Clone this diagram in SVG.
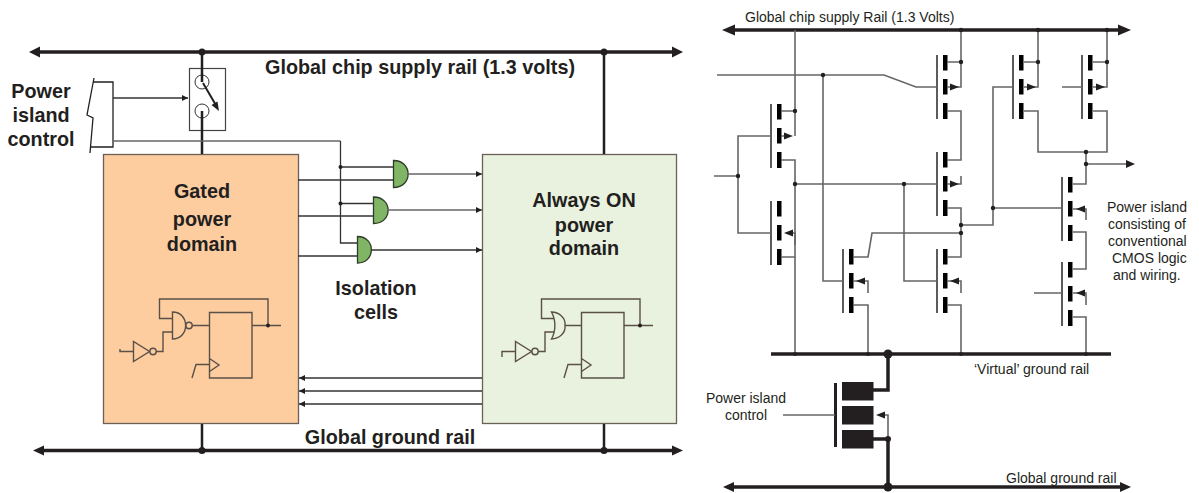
<svg xmlns="http://www.w3.org/2000/svg" width="1199" height="493" viewBox="0 0 1199 493">
<style>
text{font-family:"Liberation Sans",Arial,sans-serif;fill:#231f20}
.b{font-weight:bold;font-size:19.8px;text-anchor:middle}
.r{font-size:14px}
.c{font-size:14px;text-anchor:middle}
.w{fill:none;stroke:#333;stroke-width:1.3}
.g{fill:none;stroke:#666;stroke-width:1.6}
.t{fill:none;stroke:#231f20;stroke-width:1.3}
.h{fill:none;stroke:#231f20;stroke-width:3.500}
.m{fill:none;stroke:#231f20;stroke-width:2.500}
.k{fill:#231f20;stroke:none}
.bar{fill:#231f20;stroke:none}
.cell{fill:none;stroke:#5a5048;stroke-width:1.4}
.gate{fill:#7fb565;stroke:#2f3a28;stroke-width:1.3}
</style>
<defs>
<marker id="a" markerUnits="userSpaceOnUse" markerWidth="8" markerHeight="8" refX="6" refY="3" orient="auto"><path d="M0 0L6 3L0 6Z" fill="#231f20"/></marker>
<g id="fet"><path d="M0 0V64" stroke="#333" stroke-width="1.6"/><rect x="6" y="0" width="4.500" height="15.500"/><rect x="6" y="24" width="4.500" height="15.500"/><rect x="6" y="48" width="4.500" height="16"/></g>
</defs>

<g id="left-rails">
<path class="h" d="M38 52H674"/><path class="k" d="M29 52L40 46.500V57.500Z"/><path class="k" d="M683 52L672 46.500V57.500Z"/>
<path class="h" d="M42 450.500H673"/><path class="k" d="M33 450.500L44 445.500V455.500Z"/><path class="k" d="M683 450.500L672 445.500V455.500Z"/>
<circle class="k" cx="202" cy="52" r="3.500"/>
<circle class="k" cx="604" cy="52" r="3.500"/>
<circle class="k" cx="202" cy="450.500" r="3.500"/>
<circle class="k" cx="604" cy="450.500" r="3.500"/>
<text class="b" x="420" y="74">Global chip supply rail (1.3 volts)</text>
<text class="b" x="390" y="444">Global ground rail</text>
</g>

<g id="gated-domain">
<rect x="103.500" y="154.500" width="195" height="269" fill="#fdcda0" stroke="#6b6058" stroke-width="1.3"/>
<text class="b"><tspan x="202" y="198">Gated</tspan><tspan x="202" y="226">power</tspan><tspan x="202" y="251">domain</tspan></text>
<path class="cell" d="M209.500 312.500H252V378H209.500Z"/>
<path class="cell" d="M172.500 312V339C190 339 190 312 172.500 312Z"/>
<circle class="cell" cx="189" cy="325.500" r="3.200"/>
<path class="cell" d="M192 325.500H209M252 325.500H281M268 325.500V299H159.500V318.500H172M172 332H163V351.500H156"/>
<circle class="k" cx="268" cy="325.500" r="2"/>
<path class="cell" d="M133.500 341.500V361.500L149.500 351.500Z"/>
<circle class="cell" cx="153" cy="351.500" r="3.200"/>
<path class="cell" d="M133 351.500H120V349"/>
<path class="cell" d="M209.500 358.500L219 365L209.500 371.500M209 364.500H196L192 378"/>
</g>

<g id="always-on-domain">
<rect x="482.500" y="154.500" width="194" height="269" fill="#e9f2de" stroke="#6b6058" stroke-width="1.3"/>
<text class="b"><tspan x="584" y="207">Always ON</tspan><tspan x="584" y="232">power</tspan><tspan x="584" y="255">domain</tspan></text>
<path class="cell" d="M581.500 312.500H624V378H581.500Z"/>
<path class="cell" d="M551.500 312C559 312 566 318 565 325.500C566 333 559 339 551.500 339C556 331 556 320 551.500 312Z"/>
<path class="cell" d="M565 325.500H581M624 325.500H653M640 325.500V299H541.500V318.500H554M554 332H545V351.500H538"/>
<circle class="k" cx="640" cy="325.500" r="2"/>
<path class="cell" d="M515.500 341.500V361.500L531.500 351.500Z"/>
<circle class="cell" cx="535" cy="351.500" r="3.200"/>
<path class="cell" d="M515 351.500H502V357"/>
<path class="cell" d="M581.500 358.500L591 365L581.500 371.500M581 364.500H568L564 378"/>
</g>

<g id="power-switch">
<rect x="189.500" y="68.500" width="36" height="62" fill="#fff" stroke="#444" stroke-width="1.2"/>
<circle cx="202" cy="82" r="7" fill="none" stroke="#333" stroke-width="1"/>
<circle cx="202" cy="111" r="7" fill="none" stroke="#333" stroke-width="1"/>
<path class="m" d="M202 52V82M202 111V154"/>
<path d="M203 83L217 107" stroke="#231f20" stroke-width="2" fill="none"/>
<path class="k" d="M219 111L211.500 105L217.500 101.500Z"/>
</g>

<g id="power-island-control">
<path class="t" d="M94 78L87 115L93 118L90 153M93 82H113V147H91"/>
<text class="b"><tspan x="41" y="98">Power</tspan><tspan x="41" y="122">island</tspan><tspan x="41" y="146">control</tspan></text>
</g>

<g id="isolation-cells">
<path class="gate" d="M393.500 160.500C413 160.500 413 187.500 393.500 187.500Z"/>
<path class="gate" d="M373.500 197C393 197 393 223.500 373.500 223.500Z"/>
<path class="gate" d="M357.500 236.500C376 236.500 376 263 357.500 263Z"/>
<text class="b"><tspan x="376" y="295">Isolation</tspan><tspan x="376" y="319">cells</tspan></text>
</g>

<g id="left-connectors">
<path class="w" d="M113 98H188" marker-end="url(#a)"/>
<path class="m" d="M604 52V154M202 424V450M604 424V450"/>
<path class="g" d="M113 141H340.500"/>
<path class="w" d="M340.500 141V243H357M340.500 167H393M340.500 203.500H373M298 180H393M298 216H373M298 256H357"/>
<circle class="k" cx="340.500" cy="167" r="2"/>
<circle class="k" cx="340.500" cy="203.500" r="2"/>
<path class="g" d="M407 174H482" marker-end="url(#a)"/>
<path class="g" d="M387 210H482" marker-end="url(#a)"/>
<path class="w" d="M371 250H482" marker-end="url(#a)"/>
<path class="w" d="M482 378H299" marker-end="url(#a)"/>
<path class="w" d="M482 391H299" marker-end="url(#a)"/>
<path class="w" d="M482 404H299" marker-end="url(#a)"/>
</g>

<g id="cmos-rails">
<path class="h" d="M730 30H1122"/><path class="k" d="M722 30L735 24.500V35.500Z"/><path class="k" d="M1131 30L1118 24.500V35.500Z"/>
<path class="h" d="M771 354H1111"/>
<path class="h" d="M731 487H1122"/><path class="k" d="M723 487L734 482V492Z"/><path class="k" d="M1131 487L1120 482V492Z"/>
<text class="r" x="745" y="22">Global chip supply Rail (1.3 Volts)</text>
<text class="r" x="974" y="374">‘Virtual’ ground rail</text>
<text class="r" x="1006" y="483">Global ground rail</text>
</g>

<g id="t1"><use href="#fet" x="771" y="104"/></g>
<g id="t2"><use href="#fet" x="771" y="201"/></g>
<g id="t3"><use href="#fet" x="843" y="249"/></g>
<g id="t4"><use href="#fet" x="937" y="249"/></g>
<g id="t5"><use href="#fet" x="937" y="55"/></g>
<g id="t6"><use href="#fet" x="937" y="152"/></g>
<g id="t7"><use href="#fet" x="1013" y="55"/></g>
<g id="t8"><use href="#fet" x="1082" y="55"/></g>
<g id="t9"><use href="#fet" x="1062" y="177"/></g>
<g id="t10"><use href="#fet" x="1062" y="262"/></g>

<g id="power-transistor">
<path d="M835.500 383V447" stroke="#231f20" stroke-width="3"/>
<rect class="bar" x="842" y="382" width="31.500" height="18.500"/>
<rect class="bar" x="842" y="406" width="31.500" height="18.500"/>
<rect class="bar" x="842" y="430" width="31.500" height="18.500"/>
</g>

<g id="cmos-connectors">
<path class="g" d="M795 30V136M781 111H795M781 136H786M781 160H795V257H781"/>
<path class="g" d="M771 136H738V233H771M714 176H738M795 184H937"/>
<path class="k" d="M793 136L784 132.500V139.500Z"/>
<path class="g" d="M786 233H795V245M823 75V281H843M717 75H884L916 87H937"/>
<path class="k" d="M784 233L793 229.500V236.500Z"/>
<path class="g" d="M795 257V354M853 257H868L872 233H961M853 281H868V293M853 305H868V354"/>
<path class="k" d="M856 281L865 277.500V284.500Z"/>
<path class="g" d="M904 184V281H937M947 257H961V208H947M947 281H961V293M947 305H961V354"/>
<path class="k" d="M950 281L959 277.500V284.500Z"/>
<path class="g" d="M961 30V87H947M947 62H961M947 111H961V160H947M947 184H961V176M961 225H993V87H1013"/>
<path class="k" d="M959 87L950 83.500V90.500Z"/>
<path class="k" d="M959 184L950 180.500V187.500Z"/>
<path class="g" d="M1038 30V87H1024M1024 62H1038M1024 111H1038V152H1107V111H1093M1107 30V87H1093M1093 62H1107M1062 87H1082"/>
<path class="k" d="M1036 87L1027 83.500V90.500Z"/>
<path class="k" d="M1105 87L1096 83.500V90.500Z"/>
<path class="g" d="M1086 152V184H1073M1086 164H1128M993 208H1062M1073 232H1086V269H1073M1073 209H1086V220M1034 293H1062M1073 293H1086V305M1073 317H1086V354"/>
<path class="k" d="M1135 164L1126 160V168Z"/>
<path class="k" d="M1076 209L1085 205.500V212.500Z"/>
<path class="k" d="M1076 293L1085 289.500V296.500Z"/>
<path class="g" d="M783 415H835"/>
<path class="h" d="M873 390H888V354M873 439H888V487"/>
<path class="g" d="M888 439V415H882"/>
<path class="k" d="M876 415L885 411.500V418.500Z"/>
<g class="k">
<circle cx="795" cy="111" r="2.200"/><circle cx="795" cy="184" r="2.200"/><circle cx="738" cy="176" r="2.200"/><circle cx="823" cy="75" r="2.200"/><circle cx="904" cy="184" r="2.200"/>
<circle cx="961" cy="30" r="2.200"/><circle cx="961" cy="62" r="2.200"/><circle cx="961" cy="225" r="2.200"/><circle cx="961" cy="233" r="2.200"/><circle cx="993" cy="208" r="2.200"/>
<circle cx="1038" cy="30" r="2.200"/><circle cx="1038" cy="62" r="2.200"/><circle cx="1107" cy="30" r="2.200"/><circle cx="1107" cy="62" r="2.200"/>
<circle cx="1086" cy="152" r="2.200"/><circle cx="1086" cy="164" r="2.200"/>
<circle cx="795" cy="354" r="2"/><circle cx="868" cy="354" r="2"/><circle cx="961" cy="354" r="2"/><circle cx="1086" cy="354" r="2"/>
<circle cx="888" cy="354" r="4.500"/><circle cx="888" cy="487" r="4.500"/><circle cx="888" cy="439" r="3"/>
</g>
</g>

<g id="labels">
<text class="c"><tspan x="746" y="403">Power island</tspan><tspan x="746" y="420">control</tspan></text>
<text class="r"><tspan x="1107" y="212">Power island</tspan><tspan x="1108" y="229">consisting of</tspan><tspan x="1108" y="246">conventional</tspan><tspan x="1112" y="263">CMOS logic</tspan><tspan x="1113" y="280">and wiring.</tspan></text>
</g>
</svg>
